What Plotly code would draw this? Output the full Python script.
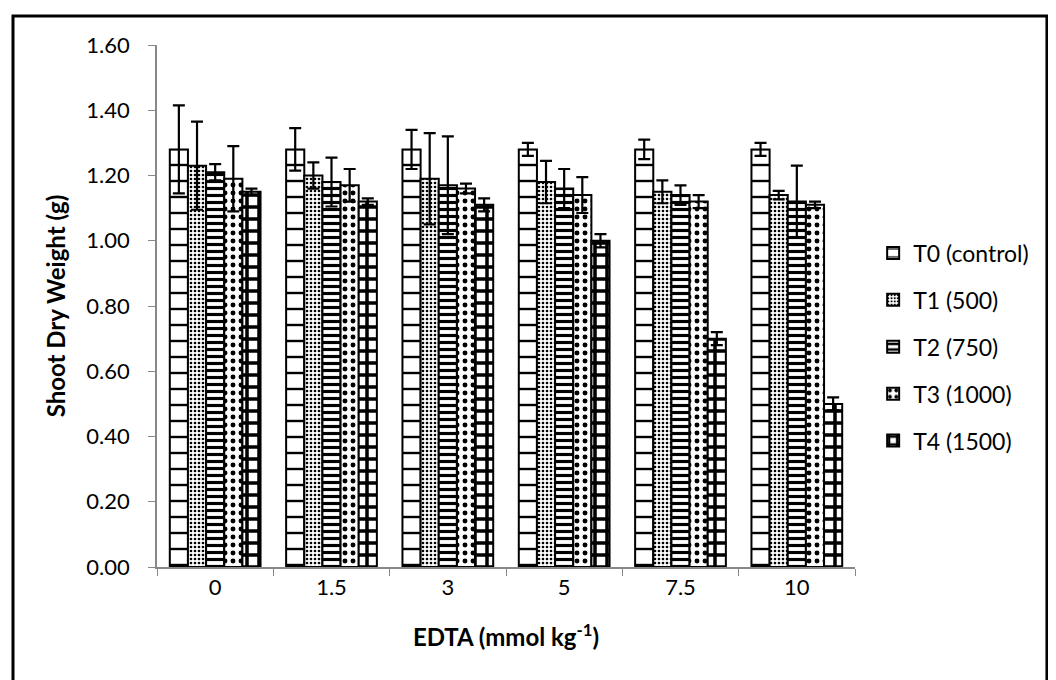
import plotly.graph_objects as go

categories = ["0", "1.5", "3", "5", "7.5", "10"]
series_names = ["T0 (control)", "T1 (500)", "T2 (750)", "T3 (1000)", "T4 (1500)"]
t0 = [1.28, 1.28, 1.28, 1.28, 1.28, 1.28]
t1 = [1.23, 1.20, 1.19, 1.18, 1.15, 1.14]
t2 = [1.21, 1.18, 1.17, 1.16, 1.14, 1.12]
t3 = [1.19, 1.17, 1.16, 1.14, 1.12, 1.11]
t4 = [1.15, 1.12, 1.11, 1.00, 0.70, 0.50]
e0 = [0.135, 0.065, 0.06, 0.02, 0.03, 0.02]
e1 = [0.135, 0.04, 0.14, 0.065, 0.035, 0.013]
e2 = [0.025, 0.075, 0.15, 0.06, 0.03, 0.11]
e3 = [0.10, 0.05, 0.015, 0.055, 0.02, 0.01]
e4 = [0.01, 0.01, 0.02, 0.02, 0.02, 0.02]
y_ticks = [0.0, 0.2, 0.4, 0.6, 0.8, 1.0, 1.2, 1.4, 1.6]

values = [t0, t1, t2, t3, t4]
errors = [e0, e1, e2, e3, e4]
patterns = [
    dict(shape="-", size=16, solidity=0.15),
    dict(shape=".", size=4, solidity=0.35),
    dict(shape="-", size=7, solidity=0.45),
    dict(shape=".", size=8, solidity=0.3),
    dict(shape="+", size=12, solidity=0.5),
]

FONT = "Lato, Open Sans, sans-serif"
fig = go.Figure()
for i in range(5):
    p = patterns[i]
    fig.add_trace(go.Bar(
        x=categories, y=values[i], name=series_names[i],
        legendgroup=series_names[i],
        marker=dict(color="white", line=dict(color="black", width=2),
                    pattern=dict(shape=p["shape"], size=p["size"], solidity=p["solidity"],
                                 fgcolor="black", bgcolor="white", fgopacity=1,
                                 fillmode="replace")),
        error_y=dict(type="data", array=errors[i], visible=True, color="black",
                     thickness=2.2, width=6),
    ))

fig.update_layout(
    width=1056, height=680,
    paper_bgcolor="white", plot_bgcolor="white",
    margin=dict(l=149, r=209, t=37, b=121),
    barmode="group", bargap=0.22, bargroupgap=0,
    font=dict(family=FONT, size=22, color="black"),
    legend=dict(x=1.026, y=0.4215, yanchor="middle", xanchor="left",
                tracegroupgap=14, font=dict(size=23, family=FONT),
                itemwidth=30),
    showlegend=True,
    shapes=[dict(type="rect", xref="paper", yref="paper",
                 x0=-0.2063, x1=1.275, y0=-0.26, y1=1.0556,
                 line=dict(color="black", width=3), fillcolor="rgba(0,0,0,0)")],
)
fig.update_xaxes(
    showline=True, linecolor="#888888", linewidth=1.5,
    ticks="outside", tickson="boundaries", ticklen=7, tickcolor="#888888",
    tickfont=dict(size=22, family=FONT),
    title=dict(text="<b>EDTA (mmol kg<sup>-1</sup>)</b>", font=dict(size=24, family=FONT), standoff=30),
)
fig.update_yaxes(
    range=[0, 1.6], tickvals=y_ticks, tickformat=".2f",
    showline=True, linecolor="#888888", linewidth=1.5,
    ticks="outside", ticklen=7, tickcolor="#888888",
    showgrid=False, zeroline=False, ticklabelstandoff=14,
    tickfont=dict(size=22, family=FONT),
    title=dict(text="<b>Shoot Dry Weight (g)</b>", font=dict(size=24, family=FONT), standoff=14),
)

fig.write_html("out.html")
